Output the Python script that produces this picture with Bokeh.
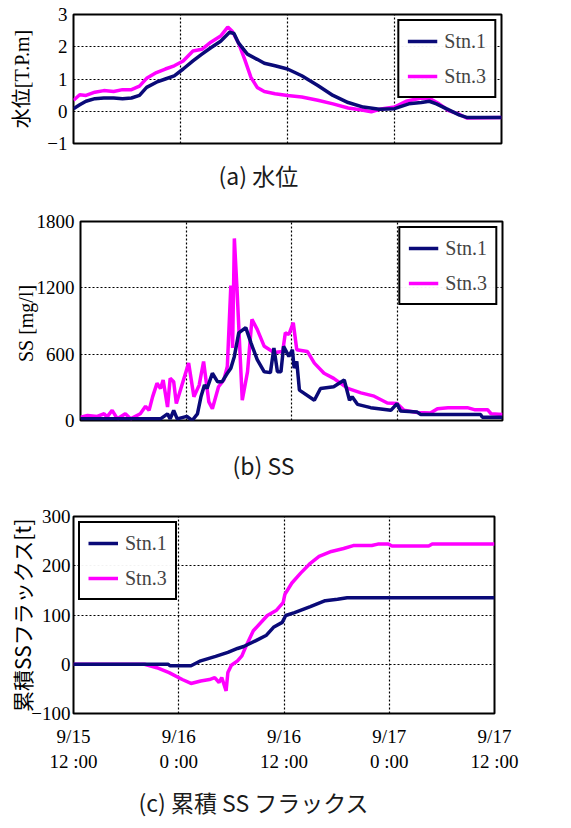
from bokeh.plotting import figure
from bokeh.layouts import column, row
from bokeh.models import FixedTicker, Legend, LegendItem, Range1d, Title
from bokeh.embed import file_html
from bokeh.resources import INLINE

# time axis: hours since 9/15 12:00
tick_hours = [0, 12, 24, 36, 48]
tick_labels = ["9/15\n12 :00", "9/16\n0 :00", "9/16\n12 :00", "9/17\n0 :00", "9/17\n12 :00"]

# (a) water level [T.P.m]
wl1_t = [0, 0.7, 1.4, 2.4, 3.4, 4.5, 5.5, 6.5, 7.4, 8.2, 9.3, 10.3, 11.3, 12.3, 13.4, 14.4, 15.4, 16.5, 17.5, 18,
         18.5, 19.5, 20.6, 21.4, 22.6, 24, 25.6, 27.4, 29.1, 30.8, 32.5, 34.3, 36, 37.6, 39, 39.9, 40.7, 41.8, 43.3,
         44.1, 48]
wl1_v = [0.08, 0.2, 0.31, 0.39, 0.41, 0.41, 0.39, 0.41, 0.49, 0.74, 0.9, 1.0, 1.1, 1.31, 1.56, 1.77, 1.97, 2.17, 2.45,
         2.41, 2.12, 1.77, 1.61, 1.49, 1.41, 1.31, 1.1, 0.8, 0.49, 0.27, 0.13, 0.06, 0.08, 0.23, 0.27, 0.31, 0.23, 0.08,
         -0.12, -0.19, -0.19]
wl3_t = [0, 0.7, 1.4, 2.4, 3.4, 4.5, 5.5, 6.5, 7.4, 8.2, 9.3, 10.3, 11.3, 12.3, 13.4, 14.4, 15.4, 16.5, 17.3, 17.8,
         18.5, 19.2, 19.9, 20.6, 21.4, 22.6, 24, 25.6, 27.4, 29.1, 30.8, 32.5, 33.4, 34.3, 36, 37.3, 39, 40, 41, 42,
         43.3, 44.1, 48]
wl3_v = [0.34, 0.51, 0.49, 0.59, 0.64, 0.61, 0.67, 0.67, 0.78, 1.02, 1.2, 1.31, 1.41, 1.56, 1.87, 1.92, 2.14, 2.33,
         2.61, 2.48, 2.12, 1.61, 1.05, 0.74, 0.61, 0.54, 0.49, 0.44, 0.34, 0.23, 0.1, 0.03, -0.02, 0.06, 0.13, 0.31,
         0.41, 0.39, 0.23, 0.03, -0.1, -0.21, -0.19]

# (b) SS [mg/l]
ss1_t = [0, 9.1, 9.9, 10.2, 10.6, 11, 12.1, 12.7, 13.3, 13.7, 14.1, 14.4, 15, 15.6, 16.1, 16.7, 17.1, 17.5, 18, 18.8,
         19.4, 20.1, 20.9, 21.6, 22, 22.4, 22.8, 23.1, 23.7, 24.1, 24.3, 24.6, 24.9, 26.6, 27.3, 28.8, 30, 30.6, 30.9,
         31.5, 33, 35.3, 36, 36.4, 38.3, 38.7, 45.5, 45.7, 48]
ss1_v = [15, 15, 60, 15, 90, 15, 37, 0, 60, 214, 320, 290, 427, 350, 350, 427, 473, 580, 793, 840, 700, 550, 440, 433,
         655, 440, 440, 670, 580, 640, 473, 534, 275, 183, 290, 305, 366, 183, 214, 146, 116, 92, 153, 85, 76, 55, 55,
         30, 30]
ss3_t = [0, 0.8, 1.9, 2.7, 3, 3.6, 4.2, 5.1, 5.7, 6.8, 7.4, 7.8, 8.2, 8.7, 9.1, 9.4, 9.9, 10.2, 10.6, 10.9, 11.6, 12.3,
         12.9, 13.5, 14, 14.6, 15, 15.7, 16.3, 16.7, 17.1, 17.3, 17.5, 17.8, 18.4, 19, 19.5, 20.1, 20.9, 22, 23, 23.3,
         23.7, 24.2, 24.6, 25.8, 26.6, 27.7, 28.8, 30.4, 31.9, 33.4, 34.9, 36, 36.8, 38.3, 39.8, 40.6, 41.8, 44, 44.8,
         46.3, 46.7, 48]
ss3_v = [30, 46, 37, 61, 30, 92, 15, 61, 15, 61, 128, 92, 214, 336, 290, 366, 122, 381, 351, 153, 336, 519, 214, 320,
         534, 168, 107, 305, 366, 488, 1220, 656, 1647, 1190, 183, 442, 915, 824, 671, 616, 625, 793, 778, 885, 640,
         625, 519, 427, 381, 290, 250, 220, 158, 153, 92, 73, 67, 107, 116, 116, 98, 98, 61, 55]

# (c) cumulative SS flux [t]
cf1_t = [0, 10.8, 11, 13.4, 14.5, 16.2, 17.6, 18.7, 19.4, 20.8, 22, 22.8, 23.8, 24.2, 25.2, 27, 28.7, 30.1, 31.2, 48]
cf1_v = [0, 0, -3, -3, 7, 16, 24, 32, 36, 48, 59, 75, 85, 99, 105, 117, 129, 132, 135, 135]
cf3_t = [0, 8.1, 9.5, 10.9, 12.4, 13.4, 14.5, 15.5, 16.1, 16.6, 16.9, 17.4, 17.6, 18, 18.7, 19.2, 19.6, 20.5, 22.1,
         23.1, 23.9, 24.1, 24.9, 25.9, 27, 28, 29.4, 30.8, 31.9, 34, 34.7, 35.9, 36.3, 40.5, 40.9, 48]
cf3_v = [0, 0, -7, -17, -31, -39, -34, -31, -27, -37, -27, -54, -17, -2, 7, 17, 34, 68, 99, 109, 125, 142, 165, 185,
         205, 219, 229, 235, 241, 241, 244, 244, 240, 240, 244, 244]

NAVY = "#0a0a78"
MAGENTA = "#ff00ff"
SERIF = "Liberation Serif"
SANS = "Noto Sans CJK JP"
W = 571


def make_fig(left, right, top, bottom, frame_h, yr, yticks, ylabel, ylabel_font, ylabel_size, lab_standoff, tick_standoff):
    p = figure(frame_width=right - left, frame_height=frame_h,
               x_range=Range1d(0, 48), y_range=Range1d(*yr),
               output_backend="svg", toolbar_location=None,
               min_border_left=left, min_border_right=W - right, min_border_top=top,
               min_border_bottom=bottom)
    p.outline_line_color = "black"
    p.outline_line_width = 2
    p.outline_line_alpha = 1
    p.background_fill_color = "white"
    p.border_fill_color = "white"
    p.xgrid.ticker = FixedTicker(ticks=tick_hours[1:-1])
    p.ygrid.ticker = FixedTicker(ticks=yticks[1:-1])
    for g in (p.xgrid, p.ygrid):
        g.grid_line_color = "black"
        g.grid_line_dash = "2 2"
        g.grid_line_width = 1.2
        g.grid_line_alpha = 1
    ax = p.yaxis[0]
    ax.ticker = FixedTicker(ticks=yticks)
    ax.axis_line_color = None
    ax.major_tick_in = 0
    ax.major_tick_out = 0
    ax.minor_tick_in = 0
    ax.minor_tick_out = 0
    ax.major_label_text_font = SERIF
    ax.major_label_text_font_size = "19px"
    ax.major_label_text_color = "black"
    ax.major_label_standoff = tick_standoff
    ax.axis_label = ylabel
    ax.axis_label_text_font = ylabel_font
    ax.axis_label_text_font_size = ylabel_size
    ax.axis_label_text_font_style = "normal"
    ax.axis_label_text_color = "black"
    ax.axis_label_standoff = lab_standoff
    xa = p.xaxis[0]
    xa.ticker = FixedTicker(ticks=tick_hours)
    xa.axis_line_color = None
    xa.major_tick_in = 0
    xa.major_tick_out = 0
    xa.minor_tick_in = 0
    xa.minor_tick_out = 0
    return p


def add_lines(p, t1, v1, t3, v3, loc):
    r3 = p.line(t3, v3, line_color=MAGENTA, line_width=3.5)
    r1 = p.line(t1, v1, line_color=NAVY, line_width=3.5)
    leg = Legend(items=[LegendItem(label="Stn.1", renderers=[r1]), LegendItem(label="Stn.3", renderers=[r3])],
                 location=loc)
    leg.border_line_color = "black"
    leg.border_line_width = 2
    leg.border_line_alpha = 1
    leg.label_text_font = SERIF
    leg.label_text_font_size = "20px"
    leg.label_height = 24
    leg.glyph_height = 24
    leg.glyph_width = 30
    leg.label_standoff = 7
    leg.padding = 8
    leg.spacing = 11
    leg.margin = 5
    p.add_layout(leg)


def caption(p, text, offset, standoff):
    p.add_layout(Title(text=text, align="left", offset=offset, standoff=standoff, text_font=SANS,
                       text_font_size="23px", text_font_style="normal", text_color="#1a1a1a"), "below")


# panel (a): frame x 73-501, y 14-143; figure 0-205
pa = make_fig(73, 501, 14, 62, 129, (-1, 3), [-1, 0, 1, 2, 3], "水位[T.P.m]", SERIF + ", " + SANS, "20px", 11, 6)
pa.xaxis[0].visible = False
add_lines(pa, wl1_t, wl1_v, wl3_t, wl3_v, "top_right")
caption(pa, "(a) 水位", 145, 24)

# panel (b): frame x 80-502, y 221-420; figure 205-506
pb = make_fig(80, 502, 16, 86, 199, (0, 1800), [0, 600, 1200, 1800], "SS  [mg/l]", SERIF, "20px", -3, 6)
pb.xaxis[0].visible = False
add_lines(pb, ss1_t, ss1_v, ss3_t, ss3_v, "top_right")
caption(pb, "(b) SS", 152, 50)

# panel (c): frame x 73-494, y 516-713; figure 506-828
pc = make_fig(73, 494, 10, 115, 197, (-100, 300), [-100, 0, 100, 200, 300], "累積SSフラックス[t]", SANS, "21px", -9, 3)
xa = pc.xaxis[0]
xa.major_label_overrides = {h: s for h, s in zip(tick_hours, tick_labels)}
xa.major_label_text_font = SERIF
xa.major_label_text_font_size = "19px"
xa.major_label_text_color = "black"
xa.major_label_standoff = 12
add_lines(pc, cf1_t, cf1_v, cf3_t, cf3_v, "top_left")
caption(pc, "(c) 累積 SS フラックス", 65, 16)

layout = column(row(pa), row(pb), row(pc), spacing=0)
open("out.html", "w").write(file_html(layout, INLINE))
